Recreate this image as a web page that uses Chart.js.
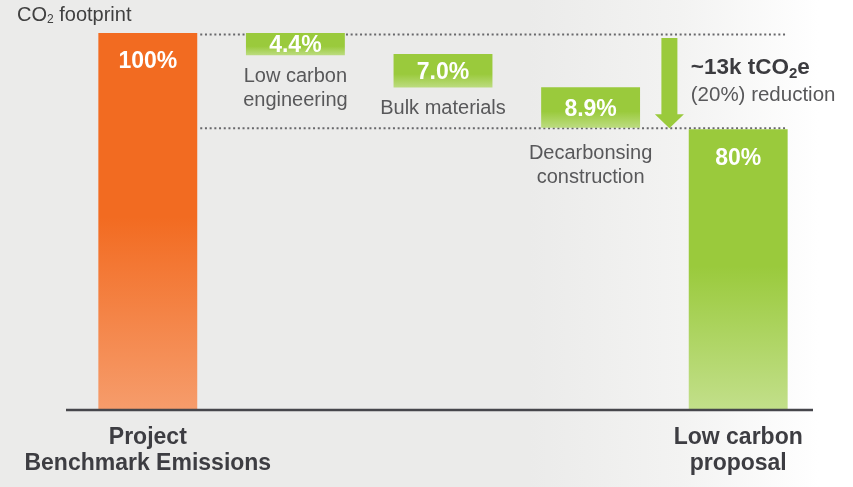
<!DOCTYPE html>
<html>
<head>
<meta charset="utf-8">
<script src="https://cdn.jsdelivr.net/npm/chart.js@4.4.1/dist/chart.umd.min.js"></script>
<style>
  html, body { margin: 0; padding: 0; }
  body { width: 853px; height: 487px; overflow: hidden;
    background: linear-gradient(90deg, #ebebea 0%, #ebebea 62%, #f3f3f2 80%, #ffffff 96%); }
  .chart-wrap { position: relative; width: 853px; height: 487px; }
</style>
</head>
<body>
<div class="chart-wrap"><canvas id="co2Chart"></canvas></div>
<script>
// waterfall steps (100 = top of benchmark bar)
const categories = [['Project', 'Benchmark Emissions'], ['Low carbon', 'engineering'], ['Bulk materials'], ['Decarbonsing', 'construction'], ['Low carbon', 'proposal']];
const barTops = [100, 100, 94.4, 85.6, 74.4];
const barBottoms = [0, 94.1, 85.5, 74.8, 0];
const valueLabels = ['100%', '4.4%', '7.0%', '8.9%', '80%'];
const isTotal = [true, false, false, false, true];
const reductionText = ['~13k tCO', '2', 'e'];
const reductionSub = '(20%) reduction';

const FONT = '"Liberation Sans", Arial, sans-serif';
Chart.defaults.font.family = FONT;

function barFill(ctx) {
  const chart = ctx.chart;
  const y = chart.scales.y;
  const i = ctx.dataIndex;
  const fallback = i === 0 ? '#f26b21' : '#9aca3c';
  if (!chart.chartArea || !y || i === undefined) return fallback;
  const top = y.getPixelForValue(barTops[i]);
  const bottom = y.getPixelForValue(barBottoms[i]);
  if (!isFinite(top) || !isFinite(bottom)) return fallback;
  const g = chart.ctx.createLinearGradient(0, top, 0, bottom);
  if (i === 0) {
    g.addColorStop(0, '#f26b21');
    g.addColorStop(0.49, '#f26b21');
    g.addColorStop(1, '#f69c6b');
  } else if (isTotal[i]) {
    g.addColorStop(0, '#9aca3c');
    g.addColorStop(0.49, '#9aca3c');
    g.addColorStop(1, '#c2df8a');
  } else {
    g.addColorStop(0, '#9aca3c');
    g.addColorStop(0.6, '#9aca3c');
    g.addColorStop(1, '#bcdc80');
  }
  return g;
}

function subText(ctx, parts, x, y, size, weight, subScale) {
  // draws "main" + subscript + "rest"
  ctx.font = weight + ' ' + size + 'px ' + FONT;
  ctx.fillText(parts[0], x, y);
  x += ctx.measureText(parts[0]).width;
  ctx.font = weight + ' ' + Math.round(size * subScale) + 'px ' + FONT;
  ctx.fillText(parts[1], x, y + size * 0.24);
  x += ctx.measureText(parts[1]).width;
  ctx.font = weight + ' ' + size + 'px ' + FONT;
  ctx.fillText(parts[2], x, y);
}

const waterfallDecor = {
  id: 'waterfallDecor',
  beforeDatasetsDraw(chart) {
    const { ctx, scales: { y } } = chart;
    const bars = chart.getDatasetMeta(0).data;
    const first = bars[0], last = bars[bars.length - 1];
    const x0 = first.x + first.width / 2 + 3;
    const x1 = last.x + last.width / 2 - 2;
    ctx.save();
    ctx.strokeStyle = '#68686b';
    ctx.lineWidth = 2;
    ctx.setLineDash([2, 2.7]);
    [y.getPixelForValue(barTops[0]) + 1.5, y.getPixelForValue(barTops[4]) - 1].forEach(py => {
      ctx.beginPath(); ctx.moveTo(x0, py); ctx.lineTo(x1, py); ctx.stroke();
    });
    ctx.restore();
  },
  afterDatasetsDraw(chart) {
    const { ctx, chartArea, scales: { y } } = chart;
    const bars = chart.getDatasetMeta(0).data;
    ctx.save();

    // axis line
    ctx.strokeStyle = '#46464b';
    ctx.lineWidth = 2.5;
    ctx.beginPath();
    ctx.moveTo(chartArea.left - 8, chartArea.bottom + 1);
    ctx.lineTo(chartArea.right + 1, chartArea.bottom + 1);
    ctx.stroke();

    // value labels + step names
    ctx.textAlign = 'center';
    ctx.textBaseline = 'middle';
    const lowLine = y.getPixelForValue(barTops[4]);
    bars.forEach((bar, i) => {
      const top = y.getPixelForValue(barTops[i]);
      const bottom = y.getPixelForValue(barBottoms[i]);
      ctx.fillStyle = '#ffffff';
      ctx.font = 'bold 23px ' + FONT;
      const ly = isTotal[i] ? top + 29 : (top + bottom) / 2 + 2;
      ctx.fillText(valueLabels[i], bar.x, ly);
      if (!isTotal[i]) {
        ctx.fillStyle = '#58585a';
        ctx.font = '20px ' + FONT;
        // names sit under their bar, or under the dotted line if the bar reaches it
        const base = bottom > lowLine - 6 ? lowLine + 24 : bottom + 21;
        categories[i].forEach((line, k) => ctx.fillText(line, bar.x, base + k * 24.5));
      }
    });

    // reduction arrow
    const last = bars[bars.length - 1];
    const ax = (bars[3].x + last.x) / 2 + 5;
    const aTop = y.getPixelForValue(barTops[0]) + 5;
    const aTip = y.getPixelForValue(barTops[4]) - 1;
    const headH = 14;
    ctx.fillStyle = '#9aca3c';
    ctx.beginPath();
    ctx.moveTo(ax - 8, aTop);
    ctx.lineTo(ax + 8, aTop);
    ctx.lineTo(ax + 8, aTip - headH);
    ctx.lineTo(ax + 14.5, aTip - headH);
    ctx.lineTo(ax, aTip);
    ctx.lineTo(ax - 14.5, aTip - headH);
    ctx.lineTo(ax - 8, aTip - headH);
    ctx.closePath();
    ctx.fill();

    // reduction text
    ctx.textAlign = 'left';
    const tx = last.x - last.width / 2 + 2;
    const ty = y.getPixelForValue(barTops[0]);
    ctx.fillStyle = '#3b3b3f';
    subText(ctx, reductionText, tx, ty + 35, 22.5, 'bold', 0.66);
    ctx.fillStyle = '#58585a';
    ctx.font = '20.5px ' + FONT;
    ctx.fillText(reductionSub, tx, ty + 62);

    // y title
    ctx.fillStyle = '#404040';
    subText(ctx, ['CO', '2', ' footprint'], 17, 15, 20, 'normal', 0.62);
    ctx.restore();
  }
};

new Chart(document.getElementById('co2Chart'), {
  type: 'bar',
  data: {
    labels: categories,
    datasets: [{
      data: barTops.map((t, i) => [barBottoms[i], t]),
      backgroundColor: barFill,
      borderWidth: 0,
      categoryPercentage: 1,
      barPercentage: 0.67
    }]
  },
  options: {
    responsive: true,
    maintainAspectRatio: false,
    animation: false,
    layout: { padding: { top: 33, left: 74, right: 41, bottom: 0 } },
    plugins: { legend: { display: false }, tooltip: { enabled: false } },
    scales: {
      x: {
        grid: { display: false, drawTicks: false },
        border: { display: false },
        afterFit: (scale) => { scale.height = 78; },
        ticks: {
          autoSkip: false,
          maxRotation: 0,
          padding: 16,
          color: '#3d3d42',
          font: { size: 23, weight: 'bold', lineHeight: 1.13 },
          callback: (v, i) => isTotal[i] ? categories[i] : ''
        }
      },
      y: { display: false, min: 0, max: 100 }
    }
  },
  plugins: [waterfallDecor]
});
</script>
</body>
</html>
